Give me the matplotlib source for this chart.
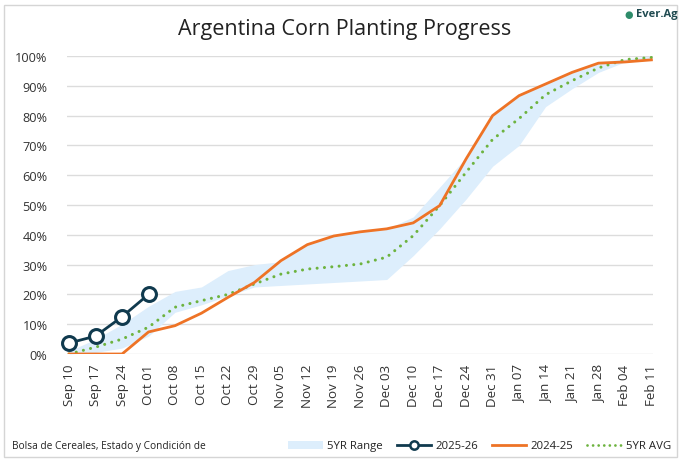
import matplotlib
matplotlib.use("Agg")
import matplotlib.pyplot as plt
from matplotlib.lines import Line2D
from matplotlib.patches import Patch, Rectangle
import numpy as np

plt.rcParams['font.family'] = ['Open Sans', 'DejaVu Sans']

weeks = ["Sep 10", "Sep 17", "Sep 24", "Oct 01", "Oct 08", "Oct 15", "Oct 22", "Oct 29",
         "Nov 05", "Nov 12", "Nov 19", "Nov 26", "Dec 03", "Dec 10", "Dec 17", "Dec 24",
         "Dec 31", "Jan 07", "Jan 14", "Jan 21", "Jan 28", "Feb 04", "Feb 11"]

range_low = [0, 0.5, 2, 6, 14, 16.5, 19.5, 22.5, 23, 23.5, 24, 24.5, 25, 33, 42, 52,
             63, 70, 83, 89, 94.5, 98, 99]
range_high = [1, 5, 10, 16, 21, 22.5, 28, 30, 31, 37, 40, 41, 42, 46, 56, 66,
              80, 87, 91, 95, 98, 99, 100]
s2025_26 = [3.7, 6, 12.5, 20]
s2024_25 = [0, 0, 0, 7.4, 9.5, 13.7, 19, 24, 31.3, 36.7, 39.6, 41, 42, 44, 49.8, 65.5,
            80, 86.7, 90.6, 94.5, 97.6, 98, 98.7]
avg5 = [0, 2.3, 5, 9, 15.7, 17.9, 20, 23.5, 26.8, 28.5, 29.3, 30.2, 32.5, 39.7, 49.8, 61,
        72, 79, 87, 91.7, 96, 98.8, 99.5]
yticks = [0, 10, 20, 30, 40, 50, 60, 70, 80, 90, 100]

C_BAND = "#DDEEFC"
C_NAVY = "#103A4E"
C_ORANGE = "#EE7326"
C_GREEN = "#6DB33F"

fig = plt.figure(figsize=(6.81, 4.60), dpi=100)
ax = fig.add_axes([67/681, 105/460, (653-67)/681, (355-57)/460])

x = np.arange(len(weeks))
ax.fill_between(x, range_low, range_high, color=C_BAND, lw=0, zorder=1)
ax.plot(x, avg5, color=C_GREEN, lw=2.2, linestyle=(0, (0.01, 2.4)), dash_capstyle='round',
        zorder=3)
ax.plot(x, s2024_25, color=C_ORANGE, lw=2.0, zorder=4)
ax.plot(x[:len(s2025_26)], s2025_26, color=C_NAVY, lw=2.0, marker='o', ms=10,
        mfc='white', mec=C_NAVY, mew=2.2, zorder=5, clip_on=False)

ax.set_xlim(-0.08, 22.06)
ax.set_ylim(0, 100)
ax.set_yticks(yticks)
ax.set_yticklabels([f"{v}%" for v in yticks], fontsize=9.2, color="#333333")
ax.set_xticks(x)
ax.set_xticklabels(weeks, rotation=90, fontsize=9.6, color="#333333")
ax.tick_params(axis='both', length=0)
ax.tick_params(axis='y', pad=14)
ax.tick_params(axis='x', pad=7)
ax.grid(axis='y', color="#DCDCDC", lw=1.0, zorder=0)
ax.set_axisbelow(True)
for s in ax.spines.values():
    s.set_visible(False)

fig.text(345/681, 1 - 30/460, "Argentina Corn Planting Progress", ha='center', va='center',
         fontsize=15.5, color="#222222")
fig.text(678/681, 1 - 15/460, "Ever.Ag", ha='right', va='center', fontsize=8,
         color="#1F4A50", fontweight='bold')
fig.text(629/681, 1 - 15/460, "●", ha='center', va='center', fontsize=7,
         color="#2E8C6A", family=['DejaVu Sans'])
fig.text(12/681, 1 - 447/460, "Bolsa de Cereales, Estado y Condición de", ha='left',
         va='center', fontsize=7.3, color="#222222")

handles = [Patch(facecolor=C_BAND, edgecolor='none', label="5YR Range"),
           Line2D([0], [0], color=C_NAVY, lw=2, marker='o', ms=6, mfc='white', mec=C_NAVY,
                  mew=1.8, label="2025-26"),
           Line2D([0], [0], color=C_ORANGE, lw=2, label="2024-25"),
           Line2D([0], [0], color=C_GREEN, lw=2, linestyle=(0, (0.01, 2.0)),
                  dash_capstyle='round', label="5YR AVG")]
fig.legend(handles=handles, loc='center right', bbox_to_anchor=(1.0, 1 - 447/460), ncol=4,
           frameon=False, fontsize=8.2, handlelength=3.0, columnspacing=1.2, handletextpad=0.4,
           labelcolor="#222222")

fig.patches.append(Rectangle((4/681, 2/460), 673/681, 452/460, transform=fig.transFigure,
                             fill=False, edgecolor="#D5D5D5", lw=1))

fig.savefig("out.png", dpi=100)
